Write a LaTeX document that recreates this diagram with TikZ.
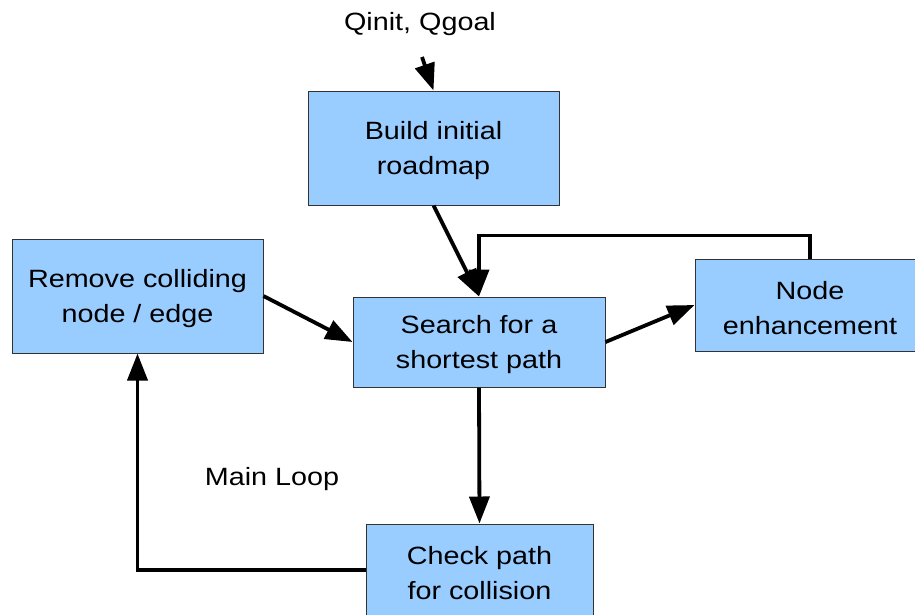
\documentclass[tikz,border=0pt]{standalone}
\usepackage{fontspec}
\setmainfont{Liberation Sans}
\newfontfamily\widesans[FakeStretch=1.15]{Liberation Sans}
\usetikzlibrary{arrows.meta}
\definecolor{boxblue}{RGB}{153,204,255}
\begin{document}
\begin{tikzpicture}[x=1pt,y=-1pt,
  box/.style={draw=black!80, line width=1pt, fill=boxblue, align=center,
    font=\widesans\fontsize{25}{35}\selectfont, inner sep=0pt},
  conn/.style={line width=3.8pt, -{Triangle[length=27pt,width=20pt]}},
  lbl/.style={font=\widesans\fontsize{25}{35}\selectfont, inner sep=0pt}]
\useasboundingbox (0,0) rectangle (915,614);
\node[box, minimum width=251pt, minimum height=114pt] (build) at (433.5,148) {\rule{0pt}{24pt}Build initial\\roadmap};
\node[box, minimum width=251pt, minimum height=114pt] (remove) at (137.5,296) {\rule{0pt}{24pt}Remove colliding\\node / edge};
\node[box, minimum width=252pt, minimum height=90pt] (search) at (479,342) {\rule{0pt}{24pt}Search for a\\shortest path};
\node[box, minimum width=230pt, minimum height=92pt] (enh) at (810,305) {\rule{0pt}{24pt}Node\\enhancement};
\node[box, minimum width=227pt, minimum height=92pt] (check) at (479.5,570) {\rule{0pt}{24pt}Check path\\for collision};
\node[lbl] (qin) at (420,24) {Qinit, Qgoal};
\node[lbl] (ml) at (272,479) {Main Loop};
\coordinate (qa) at (422,57);
\draw[conn] (qa) -- (build.north);
\draw[conn] (build.south) -- (search.north);
\draw[conn] (enh.north) |- ([yshift=61pt]search.north) -- (search.north);
\draw[conn] (remove.east) -- (search.west);
\draw[conn] (search.east) -- (enh.west);
\draw[conn] (search.south) -- (check.north);
\draw[conn] (check.west) -| (remove.south);
\end{tikzpicture}
\end{document}
